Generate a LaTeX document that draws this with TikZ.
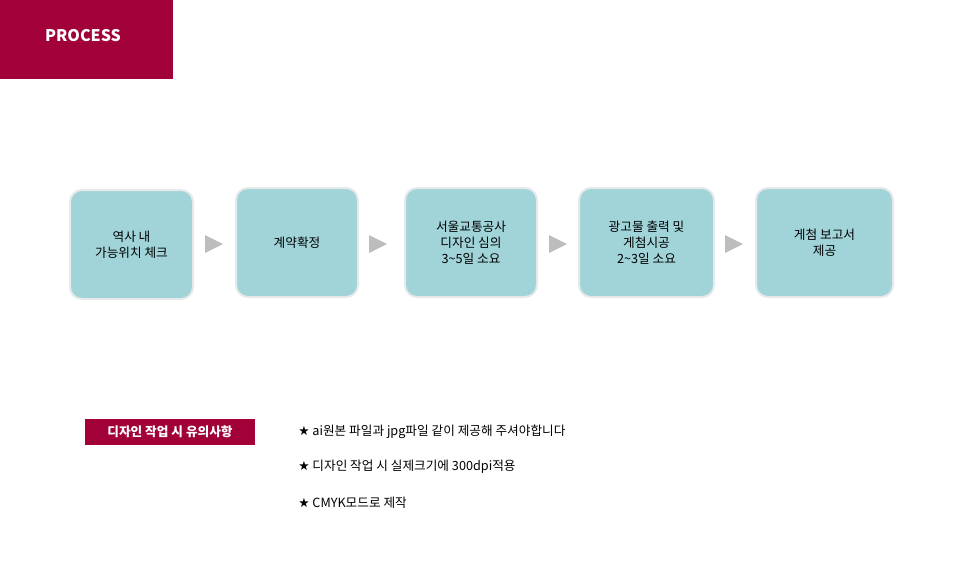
\documentclass[tikz,border=0pt]{standalone}
\usepackage{fontspec}
\setmainfont{Noto Sans CJK KR}
\newfontfamily\djfont{DejaVu Sans}
\definecolor{wine}{HTML}{A10038}
\definecolor{teal}{HTML}{A0D4D9}
\definecolor{edge}{HTML}{E6E9EA}
\definecolor{arr}{HTML}{BDBDBD}
\tikzset{
 stepbox/.style={fill=teal,draw=edge,line width=1.5pt,rounded corners=9pt,align=center,font=\fontsize{9.5}{12}\selectfont,inner sep=0pt},
 tri/.style={fill=arr,draw=none},
 note/.style={anchor=west,font=\fontsize{9.5}{12}\selectfont,inner sep=0pt}
}
\begin{document}
\begin{tikzpicture}[x=0.75pt,y=-0.75pt]
\useasboundingbox (0,0) rectangle (956,562);
\fill[wine] (0,0) rectangle (173,79);
\node[text=white,font=\bfseries\fontsize{12}{14}\selectfont] (hdr) at (83,36) {PROCESS};
\node[stepbox,minimum width=123*0.75pt,minimum height=109*0.75pt] (b1) at (131.5,244.5) {역사 내\\가능위치 체크};
\node[stepbox,minimum width=122*0.75pt,minimum height=109*0.75pt] (b2) at (297,242.5) {계약확정};
\node[stepbox,minimum width=132*0.75pt,minimum height=109*0.75pt] (b3) at (471,242.5) {서울교통공사\\디자인 심의\\3\textasciitilde5일 소요};
\node[stepbox,minimum width=135*0.75pt,minimum height=109*0.75pt] (b4) at (646.5,242.5) {광고물 출력 및\\게첨시공\\2\textasciitilde3일 소요};
\node[stepbox,minimum width=137*0.75pt,minimum height=109*0.75pt] (b5) at (824.5,242.5) {게첨 보고서\\제공};
\foreach \x in {205,369,549,725}{
 \fill[tri] (\x,235) -- (\x+18,244) -- (\x,253) -- cycle;}
\fill[wine] (85,419) rectangle (255,445);
\node[text=white,font=\bfseries\fontsize{9.5}{12}\selectfont] (lbl) at (170,432) {디자인 작업 시 유의사항};
\node[note] (n1) at (298,432) {{\djfont ★} ai원본 파일과 jpg파일 같이 제공해 주셔야합니다};
\node[note] (n2) at (298,467) {{\djfont ★} 디자인 작업 시 실제크기에 300dpi적용};
\node[note] (n3) at (298,503) {{\djfont ★} CMYK모드로 제작};
\end{tikzpicture}
\end{document}
